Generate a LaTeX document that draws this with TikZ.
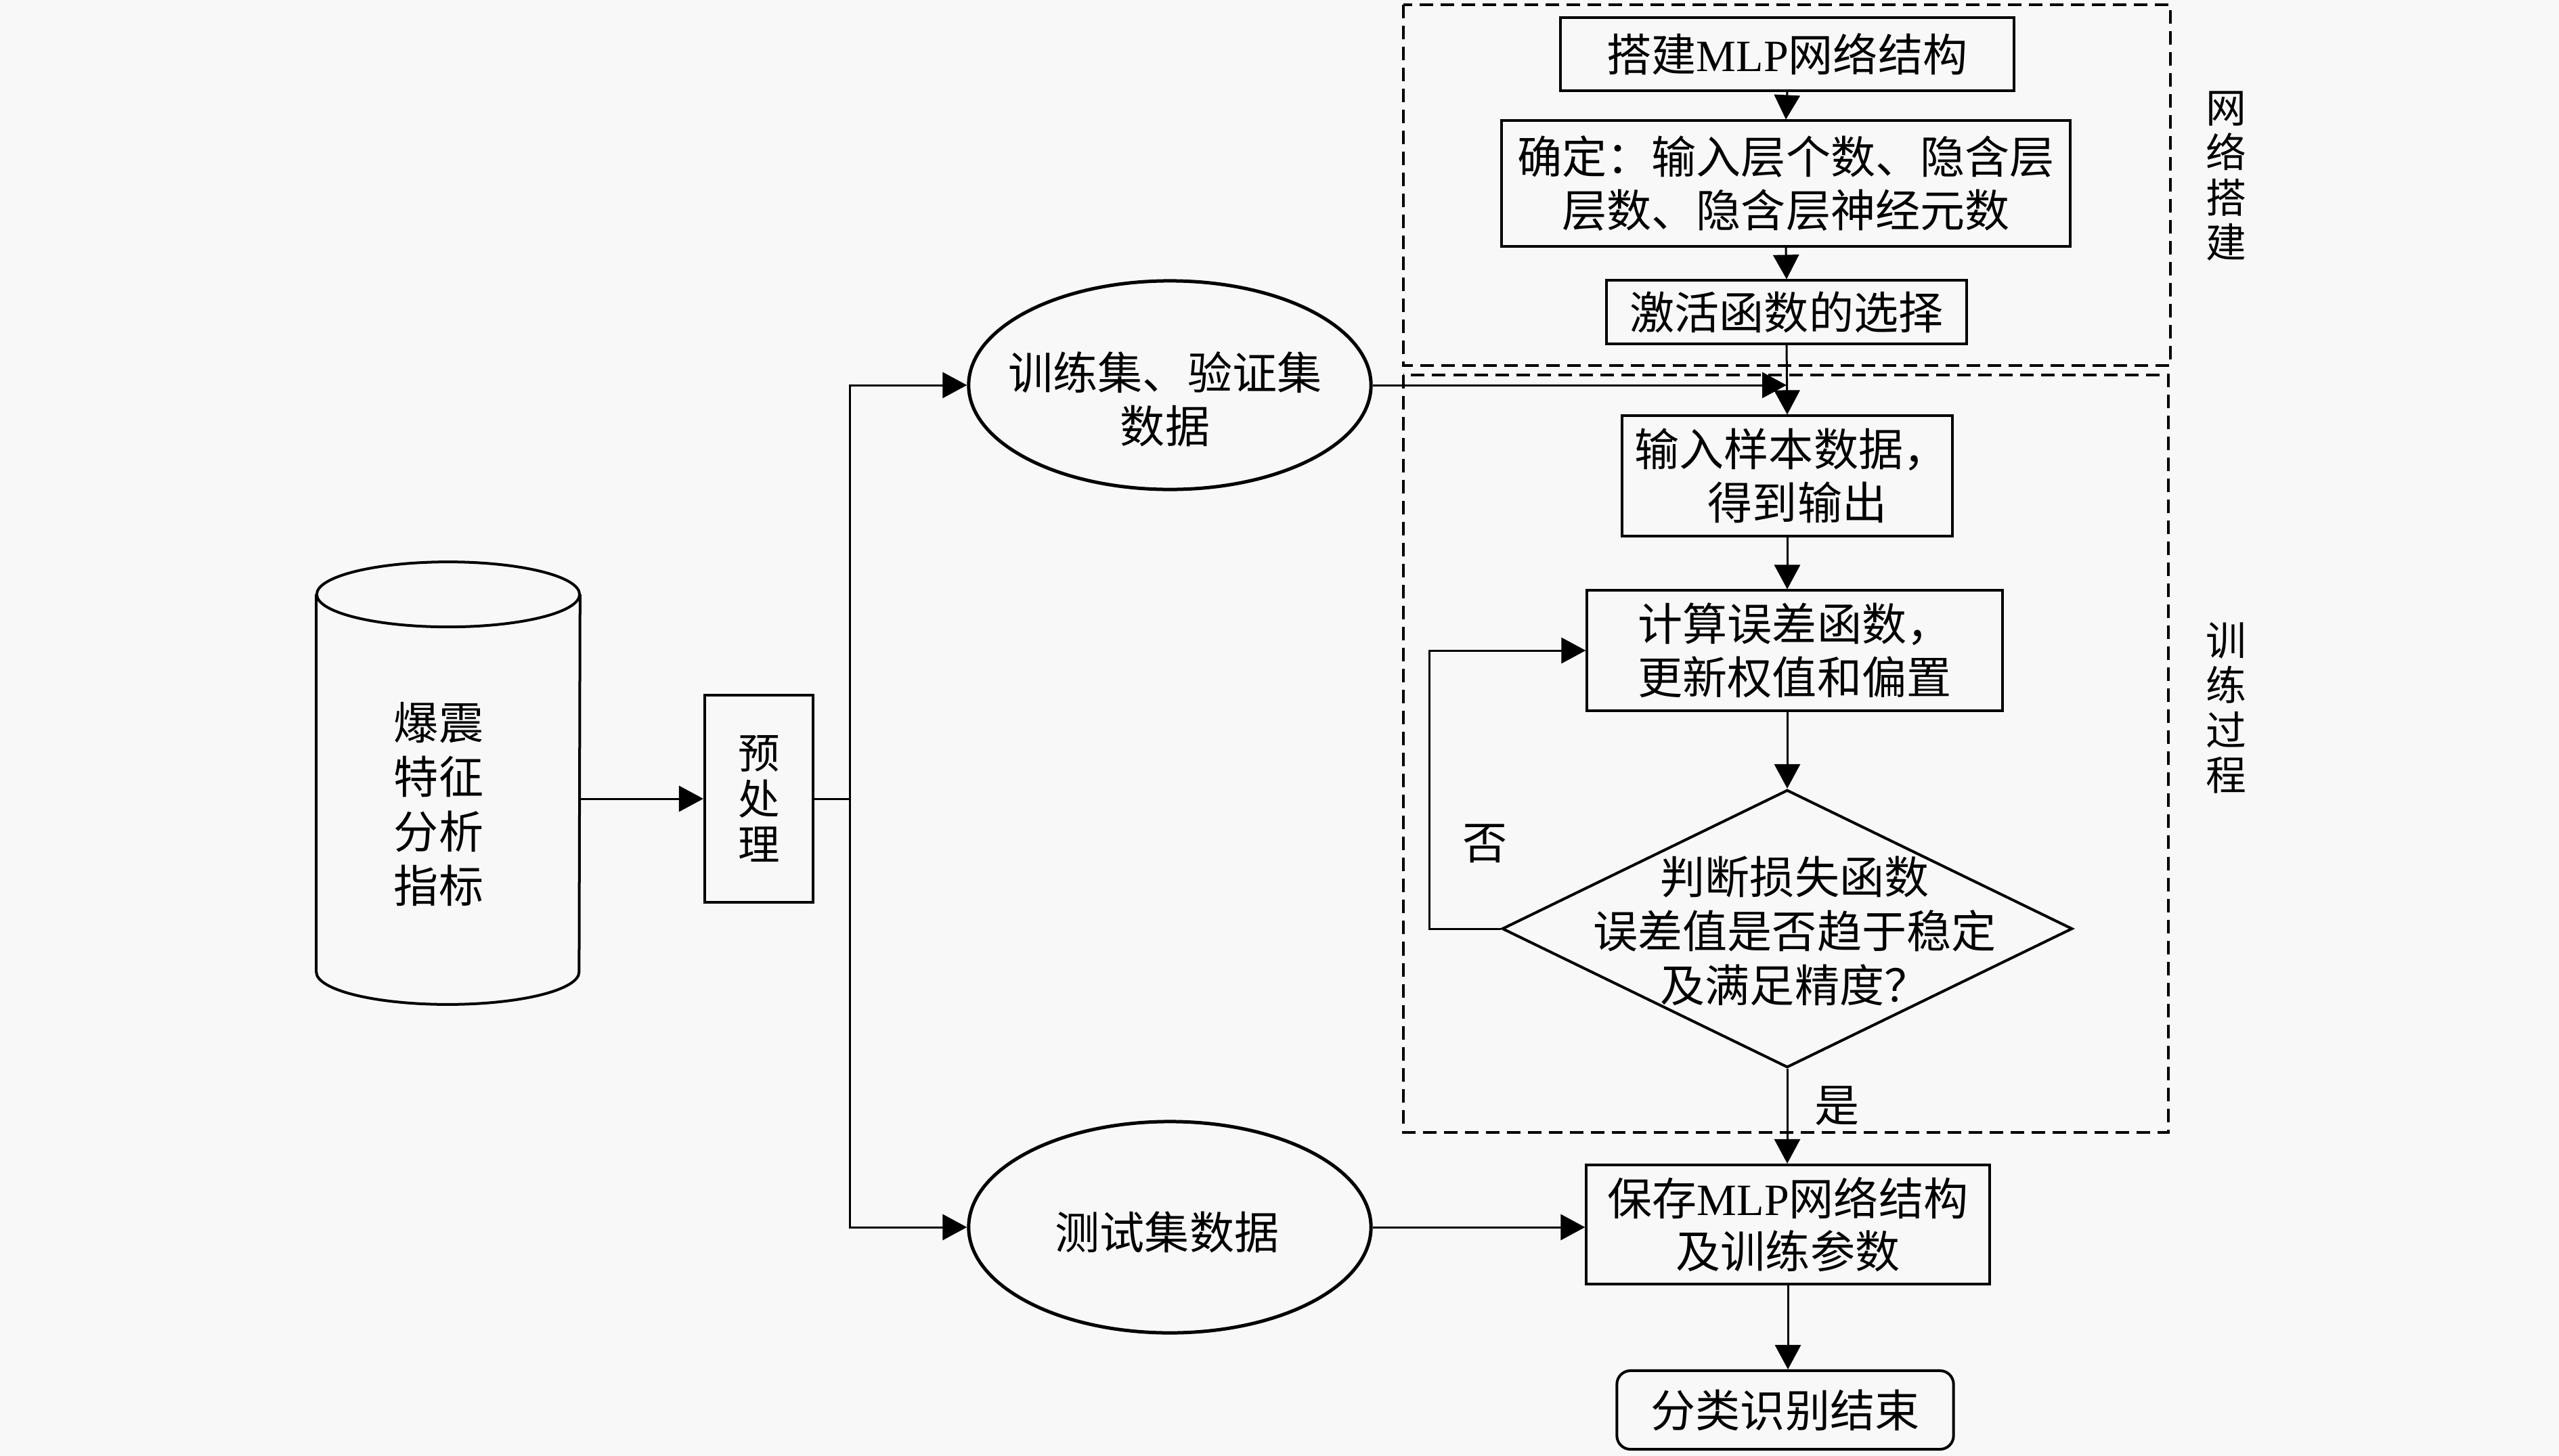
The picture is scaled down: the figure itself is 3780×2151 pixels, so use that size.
\documentclass[tikz,border=0pt]{standalone}
\usepackage{fontspec}
\setmainfont{Liberation Serif}
\newfontfamily\cjk{Noto Sans CJK SC}
\usetikzlibrary{arrows.meta,shapes.geometric}
\definecolor{bg}{RGB}{248,248,248}
\newcommand{\lat}[1]{{\rmfamily #1}}
\begin{document}
\begin{tikzpicture}[x=0.01cm,y=-0.01cm,
  txt/.style={font=\cjk\fontsize{18.8}{22.4}\selectfont, align=center, inner sep=0pt},
  bigtxt/.style={font=\cjk\fontsize{18.8}{22.8}\selectfont, align=center, inner sep=0pt},
  box/.style={draw, line width=0.04cm, rectangle, inner sep=0pt, txt},
  oval/.style={draw, line width=0.05cm, ellipse, inner sep=0pt},
  shape line/.style={draw, line width=0.04cm},
  conn/.style={line width=0.03cm},
  arr/.style={line width=0.03cm, -{Triangle[length=0.36cm,width=0.38cm]}},
  dashbox/.style={line width=0.04cm, dash pattern=on 0.2cm off 0.11cm},
  side/.style={font=\cjk\fontsize{17}{18.9}\selectfont, align=center, inner sep=0pt}
]
\fill[bg] (0,0) rectangle (3780,2151);
\useasboundingbox (0,0) rectangle (3780,2151);

% dashed group frames
\draw[dashbox] (2073,7) rectangle (3206,540);
\draw[dashbox] (2073,554) rectangle (3203,1673);
\node[side] (lblA) at (3288,260) {网\\络\\搭\\建};
\node[side] (lblB) at (3288,1046) {训\\练\\过\\程};

% cylinder
\node[minimum width=3.88cm, minimum height=5.56cm, inner sep=0pt] (cyl) at (662,1157) {};
\draw[shape line] (cyl.north west) -- (cyl.south west)
  arc[start angle=180, end angle=360, x radius=1.94cm, y radius=0.48cm] -- (cyl.north east);
\draw[shape line] (cyl.north) ellipse [x radius=1.94cm, y radius=0.48cm];
\node[bigtxt] (cyltxt) at (648,1188) {爆震\\特征\\分析\\指标};

% preprocessing
\node[box, minimum width=1.60cm, minimum height=3.06cm, font=\cjk\fontsize{17.5}{19.1}\selectfont] (pre) at (1121,1180) {预\\处\\理};

% data ellipses
\node[oval, minimum width=5.94cm, minimum height=3.08cm] (e1) at (1728,569) {};
\node[txt] (e1t) at (1721,590) {训练集、验证集\\数据};
\node[oval, minimum width=5.94cm, minimum height=3.12cm] (e2) at (1728,1813) {};
\node[txt] (e2t) at (1724,1820) {测试集数据};

% network build
\node[box, minimum width=6.70cm, minimum height=1.07cm] (build) at (2640,80) {搭建\lat{MLP}网络结构};
\node[box, minimum width=8.40cm, minimum height=1.85cm] (det) at (2638,271) {确定：输入层个数、隐含层\\层数、隐含层神经元数};
\node[box, minimum width=5.32cm, minimum height=0.93cm] (act) at (2639,461) {激活函数的选择};

% training
\node[box, minimum width=4.87cm, minimum height=1.77cm] (inp) at (2640,703) {\hspace*{0.12cm}输入样本数据，\\\hspace*{0.3cm}得到输出};
\node[box, minimum width=6.13cm, minimum height=1.77cm] (calc) at (2651,961) {计算误差函数，\\更新权值和偏置};
\node[draw, diamond, line width=0.04cm, minimum width=8.42cm, minimum height=4.10cm, inner sep=0pt] (dia) at (2640,1372) {};
\node[bigtxt] (diat) at (2651,1375) {判断损失函数\\误差值是否趋于稳定\\及满足精度？};
\node[txt] (no) at (2194,1246) {否};
\node[txt] (yes) at (2714,1634) {是};

% results
\node[box, minimum width=5.95cm, minimum height=1.76cm] (save) at (2641,1809) {保存\lat{MLP}网络结构\\及训练参数};
\node[box, rounded corners=0.2cm, minimum width=4.97cm, minimum height=1.16cm] (end) at (2637,2083) {分类识别结束};

% connectors
\coordinate (bus) at (1255,1180);
\coordinate (join) at (2639,569);
\coordinate (loop) at (2111,1372);
\draw[arr] (cyl.east |- pre.west) -- (pre.west);
\draw[conn] (pre.east) -- (bus);
\draw[arr] (bus) |- (e1.west);
\draw[arr] (bus) |- (e2.west);
\draw[arr] (e1.east) -- (join);
\draw[arr] (e2.east) -- (e2.east -| save.west);
\draw[arr] (build.south) -- (det.north);
\draw[arr] (det.south) -- (act.north);
\draw[arr] (act.south) -- (inp.north);
\draw[arr] (inp.south) -- (calc.north -| inp.south);
\draw[arr] (calc.south -| dia.north) -- (dia.north);
\draw[arr] (dia.west) -- (loop) |- (calc.west);
\draw[arr] (dia.south) -- (save.north -| dia.south);
\draw[arr] (save.south) -- (end.north -| save.south);
\end{tikzpicture}
\end{document}
